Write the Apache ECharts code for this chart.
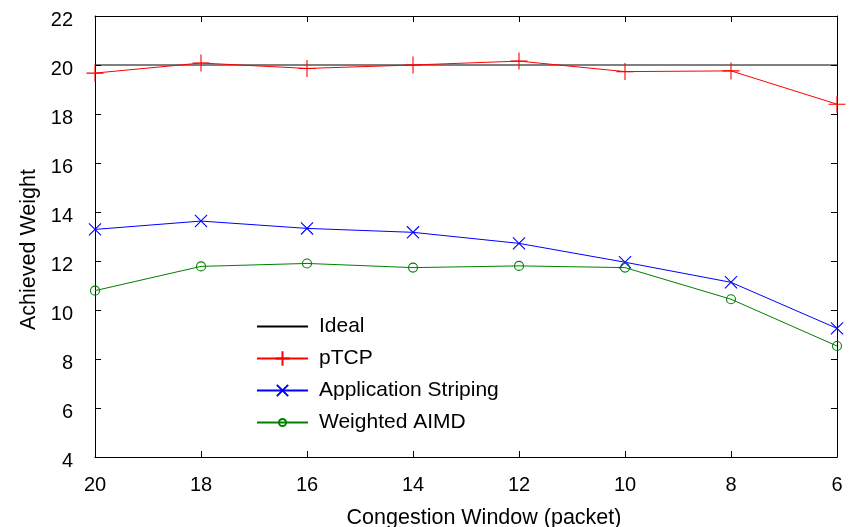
<!DOCTYPE html>
<html>
<head>
<meta charset="utf-8">
<script src="https://cdn.jsdelivr.net/npm/echarts@6/dist/echarts.min.js"></script>
<style>
  html, body { margin: 0; padding: 0; background: #fff; }
  #chart { width: 850px; height: 527px; }
</style>
</head>
<body>
<div id="chart"></div>
<script>
// Congestion window sizes (packets), plotted from large to small
const windows = [20, 18, 16, 14, 12, 10, 8, 6];
const ideal = [20, 20, 20, 20, 20, 20, 20, 20];
const ptcp = [19.67, 20.08, 19.86, 20.0, 20.16, 19.73, 19.76, 18.4];
const striping = [13.29, 13.63, 13.33, 13.17, 12.72, 11.95, 11.13, 9.25];
const weightedAimd = [10.79, 11.78, 11.9, 11.73, 11.8, 11.73, 10.44, 8.53];

const FONT = '"Liberation Sans", Arial, sans-serif';

const pair = (ys) => windows.map((x, i) => [x, ys[i]]);

// Point glyphs drawn as stroked paths inside a 14x14 box; the corner
// moves keep the box size so the visible glyph can be smaller than it.
const PLUS = 'path://M7,0L7,14M0,7L14,7';
const CROSS = 'path://M0,0M14,14M1.5,1.5L12.5,12.5M12.5,1.5L1.5,12.5';
const RING = 'path://M0,0M14,14M3.5,7A3.5,3.5,0,1,1,10.5,7A3.5,3.5,0,1,1,3.5,7Z';

const chart = echarts.init(document.getElementById('chart'), null, { renderer: 'canvas' });

const baseX = {
  type: 'value', min: 6, max: 20, interval: 2, inverse: true,
  splitLine: { show: false },
  axisLine: { lineStyle: { color: '#000', width: 1 } },
  axisTick: { inside: true, length: 6, lineStyle: { color: '#000' } }
};
const baseY = {
  type: 'value', min: 4, max: 22, interval: 2,
  splitLine: { show: false },
  axisLine: { lineStyle: { color: '#000', width: 1 } },
  axisTick: { inside: true, length: 6, lineStyle: { color: '#000' } }
};

chart.setOption({
  animation: false,
  backgroundColor: '#fff',
  textStyle: { fontFamily: FONT },
  grid: { left: 95, right: 13, top: 16, bottom: 70, show: false, outerBoundsMode: 'none', containLabel: false },
  xAxis: [
    Object.assign({}, baseX, {
      position: 'bottom',
      axisLabel: { color: '#000', fontSize: 20, fontFamily: FONT, margin: 18 },
      name: 'Congestion Window (packet)',
      nameLocation: 'middle', nameGap: 50,
      nameTextStyle: { color: '#000', fontSize: 21.5, fontFamily: FONT, padding: [0, 0, 0, 36] }
    }),
    Object.assign({}, baseX, { position: 'top', axisLabel: { show: false } })
  ],
  yAxis: [
    Object.assign({}, baseY, {
      position: 'left',
      axisLabel: {
        color: '#000', fontSize: 20, fontFamily: FONT, margin: 22,
        verticalAlign: 'top', lineHeight: 8
      },
      name: 'Achieved Weight',
      nameLocation: 'middle', nameGap: 54,
      nameTextStyle: { color: '#000', fontSize: 21.5, fontFamily: FONT, padding: [0, 26, 0, 0] }
    }),
    Object.assign({}, baseY, { position: 'right', axisLabel: { show: false } })
  ],
  legend: {
    orient: 'vertical',
    left: 251, top: 311,
    itemWidth: 51, itemHeight: 18, itemGap: 11,
    textStyle: { color: '#000', fontSize: 21, fontFamily: FONT, padding: [0, 0, 0, 6] },
    data: [
      { name: 'Ideal', itemStyle: { opacity: 0 } },
      'pTCP', 'Application Striping', 'Weighted AIMD'
    ]
  },
  series: [
    {
      name: 'Ideal', type: 'line', data: pair(ideal),
      symbol: 'none',
      lineStyle: { color: '#000', width: 1 },
      itemStyle: { color: '#000' }
    },
    {
      name: 'pTCP', type: 'line', data: pair(ptcp),
      symbol: PLUS, symbolSize: 17,
      lineStyle: { color: '#ff0000', width: 1 },
      itemStyle: { color: 'none', borderColor: '#ff0000', borderWidth: 1.1 }
    },
    {
      name: 'Application Striping', type: 'line', data: pair(striping),
      symbol: CROSS, symbolSize: 15.5,
      lineStyle: { color: '#0000ff', width: 1 },
      itemStyle: { color: 'none', borderColor: '#0000ff', borderWidth: 1.1 }
    },
    {
      name: 'Weighted AIMD', type: 'line', data: pair(weightedAimd),
      symbol: RING, symbolSize: 18,
      lineStyle: { color: '#008000', width: 1 },
      itemStyle: { color: 'none', borderColor: '#008000', borderWidth: 1.1 }
    }
  ]
});
</script>
</body>
</html>
